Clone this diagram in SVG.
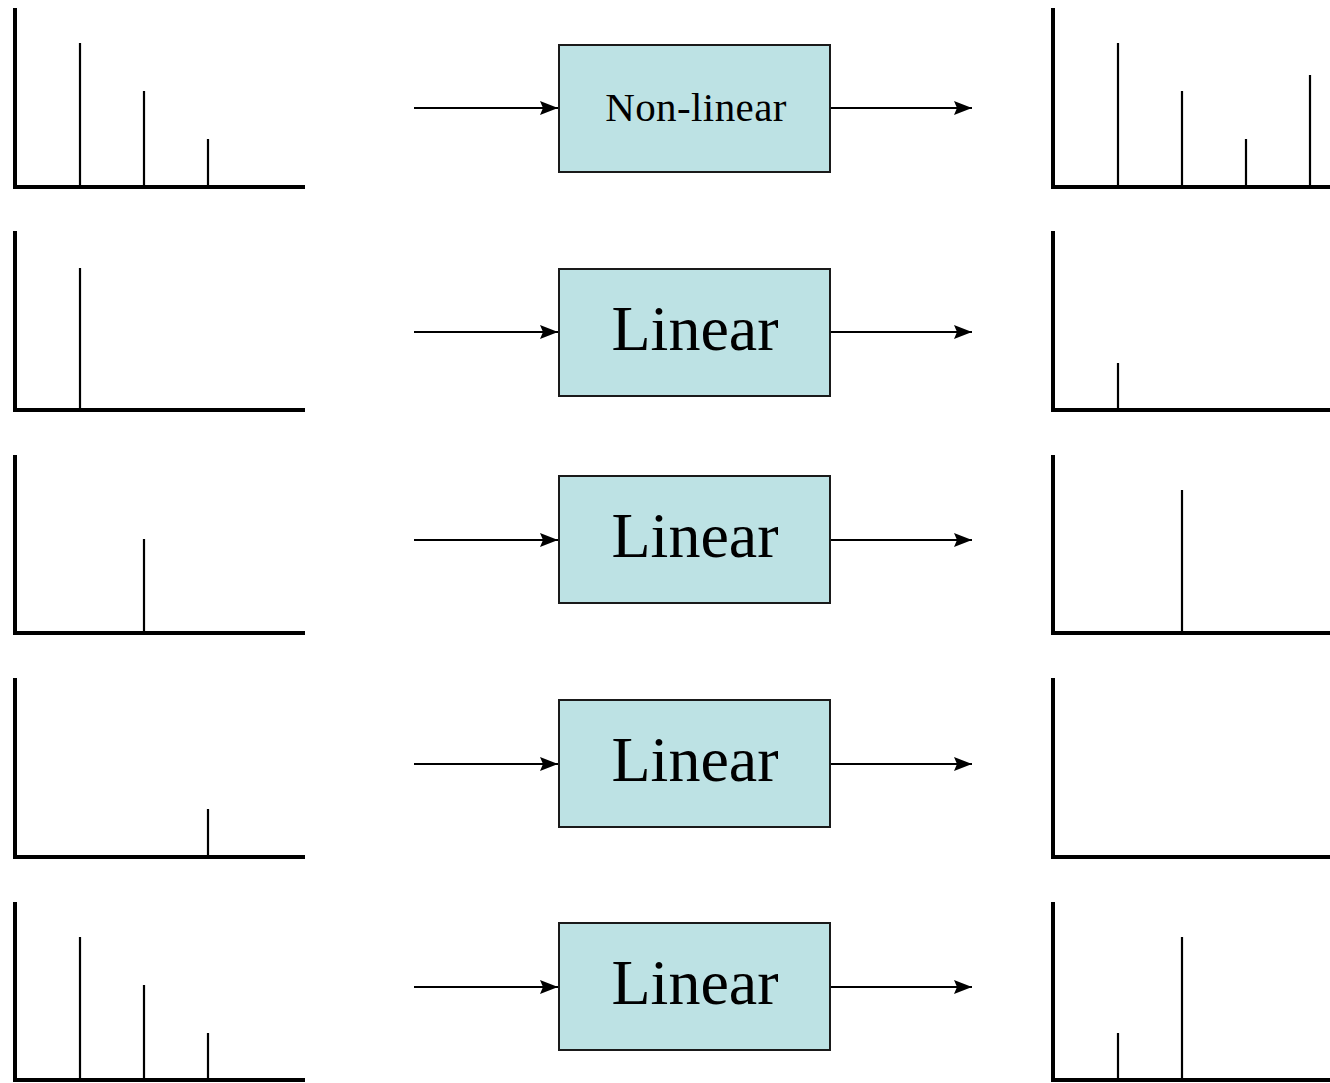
<svg xmlns="http://www.w3.org/2000/svg" width="1330" height="1083" viewBox="0 0 1330 1083">
  <style>
    .axis { stroke: #000; stroke-width: 4; fill: none; stroke-linecap: square; }
    .spike { stroke: #000; stroke-width: 2.2; fill: none; }
    .box { fill: #bde2e4; stroke: #1a1a1a; stroke-width: 2; }
    .wire { stroke: #000; stroke-width: 2; fill: none; }
    .lbl { font-family: "Liberation Serif", "Times New Roman", serif; fill: #000; text-anchor: middle; }
  </style>
  <defs>
    <marker id="arrow" markerUnits="userSpaceOnUse" markerWidth="20" markerHeight="16" refX="18" refY="8" orient="auto">
      <path d="M0,1 L18,8 L0,15 L3,8 Z" fill="#000"/>
    </marker>
  </defs>
  <rect width="1330" height="1083" fill="#fff"/>

  <!-- input spectra -->
  <g id="in1">
    <path class="axis" d="M15,10 V187 H303"/>
    <path class="spike" d="M80,187 V43 M144,187 V91 M208,187 V139"/>
  </g>
  <g id="in2">
    <path class="axis" d="M15,233 V410 H303"/>
    <path class="spike" d="M80,410 V268"/>
  </g>
  <g id="in3">
    <path class="axis" d="M15,457 V633 H303"/>
    <path class="spike" d="M144,633 V539"/>
  </g>
  <g id="in4">
    <path class="axis" d="M15,680 V857 H303"/>
    <path class="spike" d="M208,857 V809"/>
  </g>
  <g id="in5">
    <path class="axis" d="M15,904 V1080 H303"/>
    <path class="spike" d="M80,1080 V937 M144,1080 V985 M208,1080 V1033"/>
  </g>

  <!-- system blocks -->
  <g id="sys1">
    <rect class="box" x="559" y="45" width="271" height="127"/>
    <text class="lbl" x="696" y="121" font-size="41" letter-spacing="0.4">Non-linear</text>
  </g>
  <g id="sys2">
    <rect class="box" x="559" y="269" width="271" height="127"/>
    <text class="lbl" x="695" y="350" font-size="64">Linear</text>
  </g>
  <g id="sys3">
    <rect class="box" x="559" y="476" width="271" height="127"/>
    <text class="lbl" x="695" y="557" font-size="64">Linear</text>
  </g>
  <g id="sys4">
    <rect class="box" x="559" y="700" width="271" height="127"/>
    <text class="lbl" x="695" y="781" font-size="64">Linear</text>
  </g>
  <g id="sys5">
    <rect class="box" x="559" y="923" width="271" height="127"/>
    <text class="lbl" x="695" y="1004" font-size="64">Linear</text>
  </g>

  <!-- output spectra -->
  <g id="out1">
    <path class="axis" d="M1053,10 V187 H1332"/>
    <path class="spike" d="M1118,187 V43 M1182,187 V91 M1246,187 V139 M1310,187 V75"/>
  </g>
  <g id="out2">
    <path class="axis" d="M1053,233 V410 H1332"/>
    <path class="spike" d="M1118,410 V363"/>
  </g>
  <g id="out3">
    <path class="axis" d="M1053,457 V633 H1332"/>
    <path class="spike" d="M1182,633 V490"/>
  </g>
  <g id="out4">
    <path class="axis" d="M1053,680 V857 H1332"/>
  </g>
  <g id="out5">
    <path class="axis" d="M1053,904 V1080 H1332"/>
    <path class="spike" d="M1118,1080 V1033 M1182,1080 V937"/>
  </g>

  <!-- signal flow -->
  <g id="connectors">
    <line class="wire" x1="414" y1="108" x2="558" y2="108" marker-end="url(#arrow)"/>
    <line class="wire" x1="831" y1="108" x2="972" y2="108" marker-end="url(#arrow)"/>
    <line class="wire" x1="414" y1="332" x2="558" y2="332" marker-end="url(#arrow)"/>
    <line class="wire" x1="831" y1="332" x2="972" y2="332" marker-end="url(#arrow)"/>
    <line class="wire" x1="414" y1="540" x2="558" y2="540" marker-end="url(#arrow)"/>
    <line class="wire" x1="831" y1="540" x2="972" y2="540" marker-end="url(#arrow)"/>
    <line class="wire" x1="414" y1="764" x2="558" y2="764" marker-end="url(#arrow)"/>
    <line class="wire" x1="831" y1="764" x2="972" y2="764" marker-end="url(#arrow)"/>
    <line class="wire" x1="414" y1="987" x2="558" y2="987" marker-end="url(#arrow)"/>
    <line class="wire" x1="831" y1="987" x2="972" y2="987" marker-end="url(#arrow)"/>
  </g>
</svg>
